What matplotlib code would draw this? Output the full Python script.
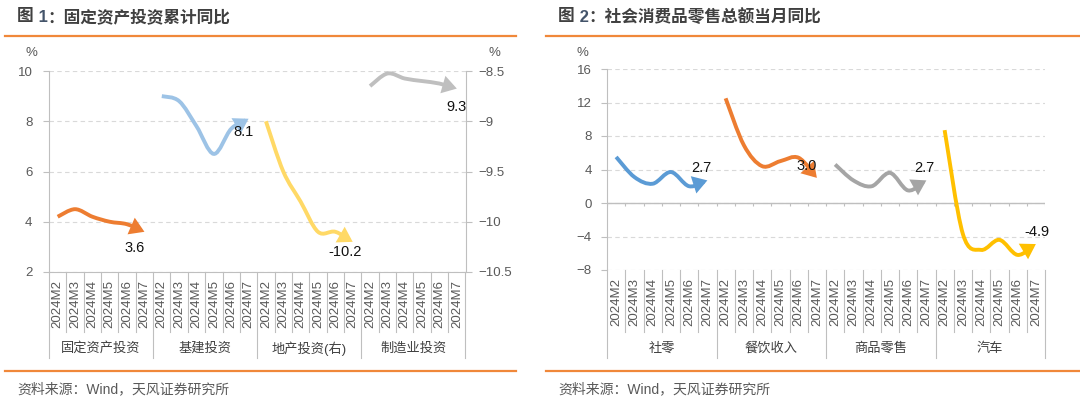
import numpy as np
import matplotlib
matplotlib.use('Agg')
import matplotlib.pyplot as plt
from matplotlib.path import Path
from matplotlib.patches import FancyArrowPatch

plt.rcParams['font.family'] = ['Liberation Sans', 'Noto Sans CJK SC']

# ---- data ----
months = ['2024M2', '2024M3', '2024M4', '2024M5', '2024M6', '2024M7']

inv_groups = ['固定资产投资', '基建投资', '地产投资(右)', '制造业投资']
inv_fai = [4.2, 4.5, 4.2, 4.0, 3.9, 3.6]
inv_infra = [9.0, 8.8, 7.8, 6.7, 7.7, 8.1]
inv_estate = [-9.0, -9.5, -9.8, -10.1, -10.1, -10.2]   # right axis
inv_mfg = [9.4, 9.9, 9.7, 9.6, 9.5, 9.3]

ret_groups = ['社零', '餐饮收入', '商品零售', '汽车']
ret_total = [5.5, 3.1, 2.3, 3.7, 2.0, 2.7]
ret_catering = [12.5, 6.9, 4.4, 5.0, 5.4, 3.0]
ret_goods = [4.6, 2.7, 2.0, 3.6, 1.5, 2.7]
ret_auto = [8.7, -3.7, -5.6, -4.4, -6.2, -4.9]

W, H = 1080, 399
ORANGE_RULE = '#F0883A'
AXC = '#BFBFBF'
GRIDC = '#D9D9D9'
TXT = '#595959'

fig = plt.figure(figsize=(W / 100, H / 100), dpi=100)


def px_rect(x0, x1, ytop, ybot):
    return [x0 / W, 1 - ybot / H, (x1 - x0) / W, (ybot - ytop) / H]


def smooth_path(xs, ys):
    # excel-like smoothed line: bezier through the points
    pts = np.column_stack([xs, ys]).astype(float)
    n = len(pts)
    verts = [pts[0]]
    codes = [Path.MOVETO]
    for i in range(n - 1):
        p0 = pts[max(i - 1, 0)]
        p1 = pts[i]
        p2 = pts[i + 1]
        p3 = pts[min(i + 2, n - 1)]
        verts += [p1 + (p2 - p0) / 6, p2 - (p3 - p1) / 6, p2]
        codes += [Path.CURVE4] * 3
    return Path(verts, codes)


def draw_series(ax, g, vals, color, offset):
    xs = np.arange(len(vals)) + g * 6
    arr = FancyArrowPatch(path=smooth_path(xs, vals),
                          arrowstyle='-|>,head_length=0.4,head_width=0.25',
                          mutation_scale=16, color=color, lw=2.8,
                          capstyle='butt', joinstyle='miter',
                          clip_on=False, zorder=3)
    ax.add_patch(arr)
    ax.annotate(f'{vals[-1]:.1f}', xy=(xs[-1], vals[-1]), xytext=offset,
                textcoords='offset pixels', ha='center', va='center',
                fontsize=10.5, color='#111111', zorder=4)


def category_axis(ax, groups, minor_bot, major_bot, lab_y):
    ax.set_xlim(-0.5, 23.5)
    ax.set_xticks(range(24))
    ax.set_xticklabels(months * 4, rotation=90, fontsize=9.5, color=TXT)
    ax.tick_params(axis='x', length=0, pad=6)
    trans = ax.get_xaxis_transform()
    for b in np.arange(-0.5, 24, 1):
        major = int(b + 0.5) % 6 == 0
        ax.plot([b, b], [0, major_bot if major else minor_bot], transform=trans,
                color=AXC, lw=0.8, clip_on=False, zorder=1)
    for g, name in enumerate(groups):
        ax.text(g * 6 + 2.5, lab_y, name, transform=trans, ha='center', va='center',
                fontsize=9.5, color='#404040')


def style_y(ax):
    ax.yaxis.grid(True, color=GRIDC, linestyle=(0, (4, 3)), lw=0.8)
    ax.set_axisbelow(True)
    ax.tick_params(axis='y', length=4, color=AXC, labelsize=9.5, labelcolor=TXT)
    for s in ['top', 'right']:
        ax.spines[s].set_visible(False)
    ax.spines['left'].set_color(AXC)
    ax.spines['bottom'].set_color(AXC)


# ---- chart 1 ----
ax1 = fig.add_axes(px_rect(49, 465.5, 71, 272))
ax1.set_ylim(2, 10)
ax1.set_yticks([2, 4, 6, 8, 10])
style_y(ax1)
ax1.tick_params(axis='y', pad=8)
category_axis(ax1, inv_groups, -0.3, -0.43, -0.38)

ax2 = ax1.twinx()
ax2.set_ylim(-10.5, -8.5)
r_ticks = [-10.5, -10, -9.5, -9, -8.5]
ax2.set_yticks(r_ticks)
ax2.set_yticklabels([f'{t:g}'.replace('-', '\u2212') for t in r_ticks])
ax2.tick_params(axis='y', length=4, color=AXC, labelsize=9.5, labelcolor=TXT, pad=5)
for s in ['top', 'left', 'bottom']:
    ax2.spines[s].set_visible(False)
ax2.spines['right'].set_color(AXC)

draw_series(ax1, 0, inv_fai, '#ED7D31', (-10, -16))
draw_series(ax1, 1, inv_infra, '#9DC3E6', (-5, -13))
draw_series(ax2, 2, inv_estate, '#FFD966', (-8, -10))
draw_series(ax1, 3, inv_mfg, '#BFBFBF', (0, -18))

# ---- chart 2 ----
ax3 = fig.add_axes(px_rect(607, 1045, 69, 270))
ax3.set_ylim(-8, 16)
ax3.set_yticks([-8, -4, 0, 4, 8, 12, 16])
style_y(ax3)
ax3.tick_params(axis='y', pad=7)
ax3.spines['bottom'].set_visible(False)
ax3.axhline(0, color=AXC, lw=1, zorder=2)
ax3.vlines(np.arange(-0.5, 24, 1), -0.4, 0, color=AXC, lw=0.8, zorder=2)
category_axis(ax3, ret_groups, -0.31, -0.44, -0.39)

draw_series(ax3, 0, ret_total, '#5B9BD5', (-6, 12))
draw_series(ax3, 1, ret_catering, '#ED7D31', (-10, 12))
draw_series(ax3, 2, ret_goods, '#A5A5A5', (-2, 12))
draw_series(ax3, 3, ret_auto, '#FFC000', (1, 12))

# ---- unit labels ----
for x in (31, 494, 582):
    fig.text(x / W, 1 - 53 / H, '%', ha='center', va='center', fontsize=9.5, color=TXT)

# ---- titles, rules, footers ----
renderer = fig.canvas.get_renderer()


def title(x, parts):
    for s, c in parts:
        t = fig.text(x / W, 1 - 17 / H, s, ha='left', va='center', fontsize=12,
                     fontweight='bold', color=c)
        x += t.get_window_extent(renderer=renderer).width


title(17, [('图', '#404040'), (' 1', '#44546A'), ('：固定资产投资累计同比', '#404040')])
title(558, [('图', '#404040'), (' 2', '#44546A'), ('：社会消费品零售总额当月同比', '#404040')])

for x0, x1 in ((5, 516), (546, 1080)):
    for y in (35.5, 371):
        fig.add_artist(plt.Line2D([x0 / W, x1 / W], [1 - y / H, 1 - y / H],
                                  color=ORANGE_RULE, lw=1.6))

for x in (17, 558):
    fig.text(x / W, 1 - 389 / H, '资料来源：Wind，天风证券研究所', ha='left', va='center',
             fontsize=10, color=TXT)

fig.savefig('out.png', dpi=100)
